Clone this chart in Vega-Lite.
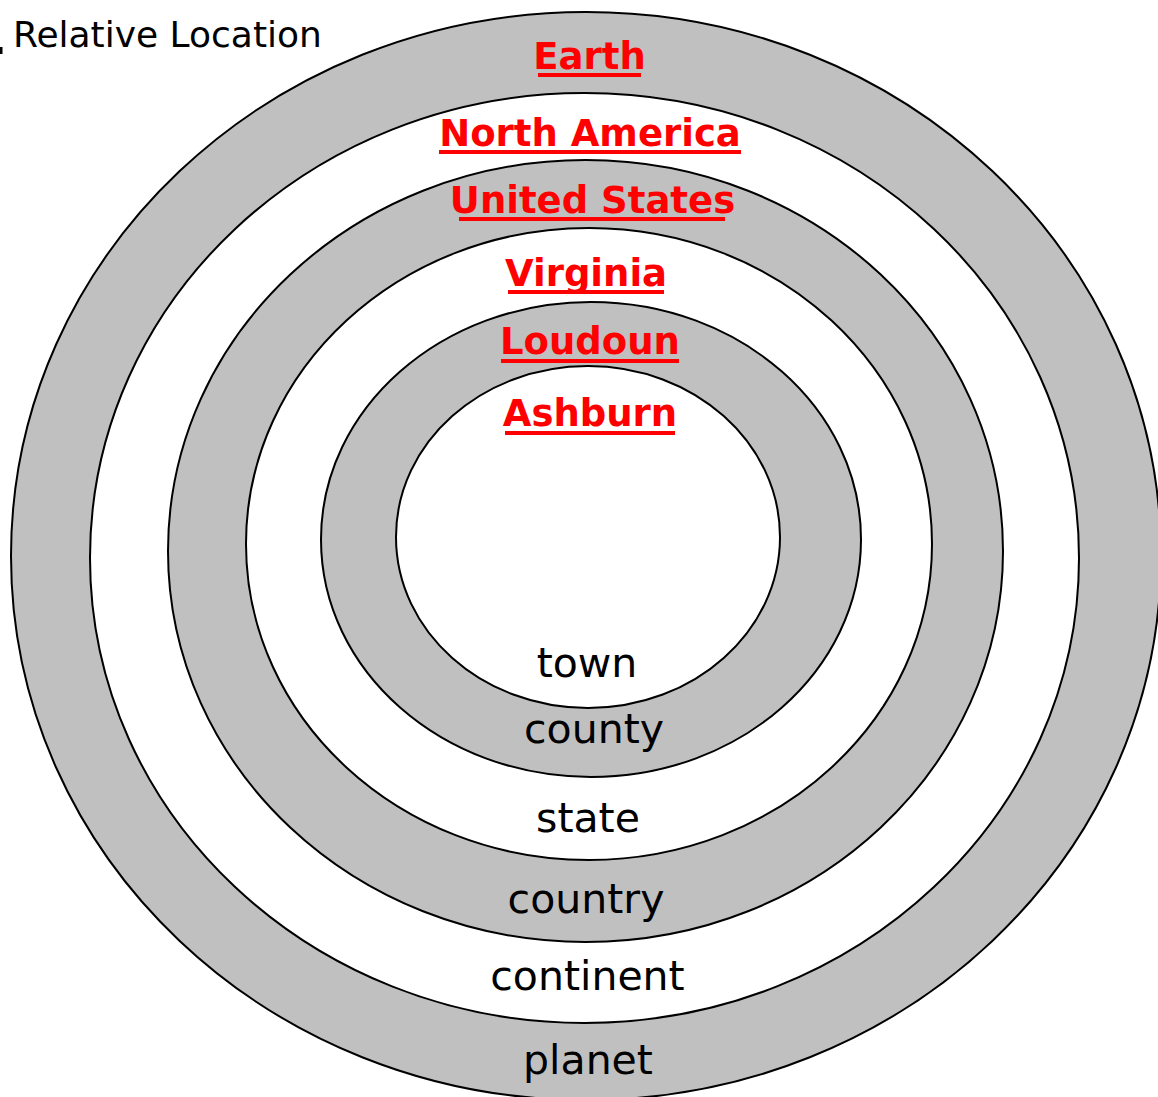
{
  "$schema": "https://vega.github.io/schema/vega-lite/v6.json",
  "width": 1158,
  "height": 1097,
  "padding": 0,
  "autosize": {"type": "none"},
  "background": "white",
  "config": {"view": {"stroke": null}},
  "datasets": {
    "rings": [
      {"ring": "planet", "cx": 586, "cy": 556, "rx": 575, "ry": 544},
      {"ring": "continent", "cx": 584.5, "cy": 558, "rx": 494.5, "ry": 465},
      {"ring": "country", "cx": 585.5, "cy": 551, "rx": 417.5, "ry": 391},
      {"ring": "state", "cx": 589, "cy": 544, "rx": 343, "ry": 316},
      {"ring": "county", "cx": 591, "cy": 539.5, "rx": 270, "ry": 237.5},
      {"ring": "town", "cx": 588, "cy": 537, "rx": 192, "ry": 171}
    ],
    "places": [
      {"label": "Earth", "x": 589.5, "y": 69, "ux1": 538, "ux2": 641, "uy": 75},
      {"label": "North America", "x": 590, "y": 146, "ux1": 439, "ux2": 741, "uy": 152},
      {"label": "United States", "x": 592.5, "y": 213, "ux1": 459, "ux2": 725, "uy": 219},
      {"label": "Virginia", "x": 586, "y": 286, "ux1": 508, "ux2": 664, "uy": 292},
      {"label": "Loudoun", "x": 590, "y": 354, "ux1": 501, "ux2": 679, "uy": 361},
      {"label": "Ashburn", "x": 590, "y": 426, "ux1": 505, "ux2": 675, "uy": 433}
    ],
    "levels": [
      {"label": "town", "x": 587, "y": 677},
      {"label": "county", "x": 594, "y": 743},
      {"label": "state", "x": 588, "y": 832},
      {"label": "country", "x": 586, "y": 913},
      {"label": "continent", "x": 587.5, "y": 990},
      {"label": "planet", "x": 588, "y": 1074}
    ],
    "title": [
      {"label": "Relative Location", "x": 13, "y": 47, "tx": 1, "ty1": 47, "ty2": 54}
    ]
  },
  "layer": [
    {
      "data": {"name": "rings"},
      "mark": {"type": "point", "filled": true, "opacity": 1, "stroke": "black", "strokeWidth": 2, "strokeOpacity": 1, "fillOpacity": 1},
      "encoding": {
        "x": {"field": "cx", "type": "quantitative", "axis": null, "scale": {"domain": [0, 1158], "nice": false, "zero": false}},
        "y": {"field": "cy", "type": "quantitative", "axis": null, "scale": {"domain": [0, 1097], "nice": false, "zero": false, "reverse": true}},
        "size": {"field": "rx", "type": "quantitative", "legend": null, "scale": {"type": "pow", "exponent": 2, "domain": [0, 600], "range": [0, 1440000], "nice": false, "zero": false}},
        "shape": {"field": "ring", "type": "nominal", "legend": null, "scale": {
          "domain": ["planet", "continent", "country", "state", "county", "town"],
          "range": [
            "M-1,0A1,0.9461,0,1,0,1,0A1,0.9461,0,1,0,-1,0Z",
            "M-1,0A1,0.9403,0,1,0,1,0A1,0.9403,0,1,0,-1,0Z",
            "M-1,0A1,0.9365,0,1,0,1,0A1,0.9365,0,1,0,-1,0Z",
            "M-1,0A1,0.9213,0,1,0,1,0A1,0.9213,0,1,0,-1,0Z",
            "M-1,0A1,0.8796,0,1,0,1,0A1,0.8796,0,1,0,-1,0Z",
            "M-1,0A1,0.8906,0,1,0,1,0A1,0.8906,0,1,0,-1,0Z"
          ]}},
        "fill": {"field": "ring", "type": "nominal", "legend": null, "scale": {
          "domain": ["planet", "continent", "country", "state", "county", "town"],
          "range": ["#c0c0c0", "#ffffff", "#c0c0c0", "#ffffff", "#c0c0c0", "#ffffff"]}}
      }
    },
    {
      "data": {"name": "places"},
      "mark": {"type": "rule", "color": "#ff0000", "strokeWidth": 4},
      "encoding": {
        "x": {"field": "ux1", "type": "quantitative"},
        "x2": {"field": "ux2"},
        "y": {"field": "uy", "type": "quantitative"}
      }
    },
    {
      "data": {"name": "places"},
      "mark": {"type": "text", "font": "DejaVu Sans", "fontWeight": "bold", "fontSize": 37, "color": "#ff0000", "align": "center", "baseline": "alphabetic"},
      "encoding": {
        "x": {"field": "x", "type": "quantitative"},
        "y": {"field": "y", "type": "quantitative"},
        "text": {"field": "label"}
      }
    },
    {
      "data": {"name": "levels"},
      "mark": {"type": "text", "font": "DejaVu Sans", "fontSize": 41, "color": "#000000", "align": "center", "baseline": "alphabetic"},
      "encoding": {
        "x": {"field": "x", "type": "quantitative"},
        "y": {"field": "y", "type": "quantitative"},
        "text": {"field": "label"}
      }
    },
    {
      "data": {"name": "title"},
      "mark": {"type": "text", "font": "DejaVu Sans", "fontSize": 36, "color": "#000000", "align": "left", "baseline": "alphabetic"},
      "encoding": {
        "x": {"field": "x", "type": "quantitative"},
        "y": {"field": "y", "type": "quantitative"},
        "text": {"field": "label"}
      }
    },
    {
      "data": {"name": "title"},
      "mark": {"type": "rule", "color": "#000000", "strokeWidth": 3},
      "encoding": {
        "x": {"field": "tx", "type": "quantitative"},
        "y": {"field": "ty1", "type": "quantitative"},
        "y2": {"field": "ty2"}
      }
    }
  ]
}
